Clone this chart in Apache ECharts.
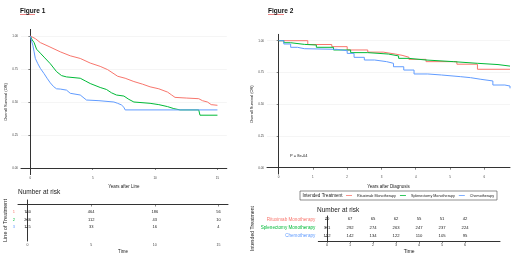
<!DOCTYPE html>
<html>
<head>
<meta charset="utf-8">
<script src="https://cdn.jsdelivr.net/npm/echarts@6/dist/echarts.min.js"></script>
<style>
html, body { margin: 0; padding: 0; background: #fff; }
#chart { width: 520px; height: 260px; }
</style>
</head>
<body>
<div id="chart"></div>
<script>
var colors = ['#F8766D', '#00BA38', '#619CFF'];
var survTicks = [0, 0.25, 0.5, 0.75, 1];

// Figure 1 - OS by line of treatment, [years, survival]
var line1Curve = [[0, 1], [0.4, 0.98], [0.8, 0.95], [1.5, 0.92], [2.4, 0.88], [3.2, 0.85], [4, 0.83], [4.8, 0.795], [5.6, 0.77], [6.2, 0.745], [7, 0.695], [7.6, 0.68], [8.3, 0.655], [9, 0.635], [9.6, 0.615], [10.3, 0.6], [11, 0.575], [11.3, 0.555], [11.6, 0.535], [12.5, 0.53], [13.5, 0.525], [13.8, 0.51], [14.2, 0.5], [14.5, 0.48], [15, 0.475]];
var line2Curve = [[0, 1], [0.15, 0.97], [0.3, 0.95], [0.5, 0.9], [0.8, 0.87], [1.1, 0.84], [1.6, 0.79], [2.1, 0.73], [2.5, 0.7], [2.9, 0.69], [4, 0.68], [4.4, 0.66], [4.8, 0.64], [5.6, 0.61], [6.1, 0.595], [6.5, 0.57], [6.9, 0.553], [7.5, 0.545], [7.9, 0.52], [8.3, 0.5], [9.6, 0.49], [10.3, 0.48], [11, 0.465], [11.5, 0.45], [12, 0.44], [13.5, 0.44], [13.6, 0.4], [15, 0.4]];
var line3Curve = [[0, 1], [0.1, 0.96], [0.2, 0.93], [0.3, 0.88], [0.4, 0.83], [0.6, 0.79], [0.8, 0.755], [1.1, 0.715], [1.34, 0.68], [1.6, 0.645], [1.87, 0.616], [2.1, 0.6], [2.4, 0.598], [2.9, 0.59], [3.2, 0.566], [4, 0.553], [4.3, 0.53], [4.5, 0.515], [5.5, 0.51], [6.7, 0.5], [7, 0.49], [7.3, 0.478], [7.5, 0.46], [7.6, 0.44], [15, 0.44]];
var fig1Ticks = [0, 5, 10, 15];
var fig1Rows = ['1', '2', '3'];
var fig1Risk1 = [760, 464, 186, 56];
var fig1Risk2 = [246, 112, 43, 10];
var fig1Risk3 = [115, 33, 16, 4];

// Figure 2 - OS by intended treatment, [years, survival]
var rituxCurve = [[0, 1], [0.85, 0.97], [1.55, 0.953], [2, 0.927], [2.6, 0.91], [3.05, 0.895], [3.4, 0.885], [3.6, 0.87], [3.8, 0.853], [4.3, 0.835], [5.2, 0.815], [5.8, 0.775], [6.75, 0.775]];
var splenCurve = [[0, 1], [0.15, 0.984], [0.35, 0.971], [0.75, 0.966], [1.1, 0.948], [1.6, 0.927], [2.1, 0.906], [2.6, 0.895], [3.2, 0.88], [3.5, 0.861], [3.8, 0.848], [4.3, 0.835], [5.1, 0.822], [5.8, 0.812], [6.4, 0.8], [6.75, 0.795]];
var chemoCurve = [[0, 1], [0.15, 0.974], [0.35, 0.948], [0.55, 0.937], [0.75, 0.932], [1.7, 0.921], [2, 0.9], [2.2, 0.869], [2.5, 0.848], [2.8, 0.835], [3.15, 0.822], [3.35, 0.795], [3.65, 0.769], [3.95, 0.738], [4.35, 0.73], [4.75, 0.717], [5.3, 0.709], [5.6, 0.696], [5.9, 0.683], [6.25, 0.651], [6.6, 0.643], [6.75, 0.625]];
var fig2Ticks = [0, 1, 2, 3, 4, 5, 6];
var fig2Rows = ['Rituximab Monotherapy', 'Splenectomy Monotherapy', 'Chemotherapy'];
var fig2RiskRitux = [70, 67, 65, 62, 55, 51, 42];
var fig2RiskSplen = [311, 292, 274, 263, 247, 237, 224];
var fig2RiskChemo = [152, 142, 134, 122, 110, 105, 95];

var axisColor = '#333';

function xAxisOf(grid, min, max, ticks, name, labelSize, nameSize, nameGap) {
  return {
    gridIndex: grid, type: 'value', min: min, max: max,
    axisLine: { lineStyle: { color: axisColor, width: 1 } },
    axisTick: { customValues: ticks, length: 2, lineStyle: { color: axisColor, width: 0.6 } },
    axisLabel: { customValues: ticks, fontSize: labelSize, color: '#444', margin: 2 },
    splitLine: { show: false },
    name: name, nameLocation: 'middle', nameGap: nameGap,
    nameTextStyle: { fontSize: nameSize, color: '#222' }
  };
}

function survAxis(grid, nameGap) {
  return {
    gridIndex: grid, type: 'value', min: -0.05, max: 1.05,
    axisLine: { show: true, lineStyle: { color: axisColor, width: 1 } },
    axisTick: { show: true, customValues: survTicks, length: 2, lineStyle: { color: axisColor, width: 0.6 } },
    axisLabel: { customValues: survTicks, fontSize: 3, color: '#444', margin: 3,
      formatter: function (v) { return v.toFixed(2); } },
    splitLine: { show: true, lineStyle: { color: '#eeeeee', width: 0.6 } },
    name: 'Overall Survival (OS)', nameLocation: 'middle', nameGap: nameGap,
    nameTextStyle: { fontSize: 4, color: '#222' }
  };
}

function riskAxis(grid, min, max, labels, labelSize, name, nameSize, nameGap) {
  var rich = {};
  labels.forEach(function (l, i) { rich['r' + i] = { color: colors[i], fontSize: labelSize }; });
  return {
    gridIndex: grid, type: 'value', inverse: true, min: min, max: max,
    axisLine: { show: true, lineStyle: { color: axisColor, width: 1 } },
    axisTick: { show: true, customValues: [1, 2, 3], length: 2, lineStyle: { color: axisColor, width: 0.6 } },
    axisLabel: { customValues: [1, 2, 3], margin: 3, rich: rich,
      formatter: function (v) { return '{r' + (v - 1) + '|' + labels[v - 1] + '}'; } },
    splitLine: { show: false },
    name: name, nameLocation: 'middle', nameGap: nameGap,
    nameTextStyle: { fontSize: nameSize, color: '#222' }
  };
}

function kmSeries(name, data, xi, color, step) {
  return {
    name: name, type: 'line', xAxisIndex: xi, yAxisIndex: xi,
    data: data, step: step, showSymbol: false, symbol: 'none',
    lineStyle: { color: color, width: 1 }, itemStyle: { color: color },
    silent: true, animation: false
  };
}

function riskSeries(xi, times, counts, row, fontSize) {
  return {
    type: 'scatter', xAxisIndex: xi, yAxisIndex: xi,
    data: times.map(function (t, i) { return [t, row, counts[i]]; }),
    symbol: 'circle', symbolSize: 1, itemStyle: { color: 'rgba(255,255,255,0)' },
    label: { show: true, position: 'inside', color: '#222', fontSize: fontSize, opacity: 1,
      formatter: function (p) { return String(p.value[2]); } },
    labelLayout: { hideOverlap: false },
    silent: true, animation: false
  };
}

var chart = echarts.init(document.getElementById('chart'));

var titleStyle = { fontSize: 6.5, fontWeight: 'normal', color: '#222' };

chart.setOption({
  backgroundColor: '#fff',
  textStyle: { fontFamily: 'Liberation Sans' },
  animation: false,
  title: [
    { text: 'Figure 1', left: 20, top: 7.5, padding: 0, textStyle: { fontSize: 6.5, fontWeight: 'bold', color: '#111' } },
    { text: 'Figure 2', left: 268, top: 7.5, padding: 0, textStyle: { fontSize: 6.5, fontWeight: 'bold', color: '#111' } },
    { text: 'Number at risk', left: 18, top: 188.7, padding: 0, textStyle: titleStyle },
    { text: 'Number at risk', left: 317, top: 206.7, padding: 0, textStyle: titleStyle },
    { text: 'P = 8e-04', left: 290, top: 153.7, padding: 0, textStyle: { fontSize: 4, fontWeight: 'normal', color: '#222' } },
    { text: 'Intended Treatment', left: 302.5, top: 193.7, padding: 0, textStyle: { fontSize: 4.6, fontWeight: 'normal', color: '#222' } }
  ],
  legend: {
    left: 300, top: 191, orient: 'horizontal',
    data: fig2Rows,
    icon: 'rect', itemWidth: 6, itemHeight: 0.8, itemGap: 4,
    padding: [2.5, 3, 2.5, 46],
    borderColor: '#444', borderWidth: 0.6,
    textStyle: { fontSize: 3.7, color: '#222' }
  },
  graphic: [
    { type: 'line', shape: { x1: 20, y1: 14.5, x2: 35, y2: 14.5 }, style: { stroke: '#e03030', lineWidth: 0.6 } },
    { type: 'line', shape: { x1: 268, y1: 14.5, x2: 284, y2: 14.5 }, style: { stroke: '#e03030', lineWidth: 0.6 } }
  ],
  grid: [
    { left: 21, top: 29.4, width: 205.8, height: 145.2 },
    { left: 18, top: 200, width: 210, height: 41 },
    { left: 267, top: 34.35, width: 243, height: 139.7 },
    { left: 318.3, top: 216, width: 181.7, height: 25 }
  ],
  xAxis: [
    xAxisOf(0, -0.75, 15.75, fig1Ticks, 'Years after Line', 3, 4.5, 6),
    xAxisOf(1, -0.75, 15.75, fig1Ticks, 'Time', 3.5, 4.5, 8),
    xAxisOf(2, -0.34, 6.75, fig2Ticks, 'Years after Diagnosis', 3, 4.5, 6),
    xAxisOf(3, -0.38, 7.52, fig2Ticks, 'Time', 3.8, 5, 8)
  ],
  yAxis: [
    survAxis(0, 9),
    riskAxis(1, -0.6, 4.87, fig1Rows, 4, 'Line of Treatment', 5.5, 5),
    survAxis(2, 9),
    riskAxis(3, 0.6, 3.6, fig2Rows, 4.6, 'Intended Treatment', 5.2, 63)
  ],
  series: [
    kmSeries('1', line1Curve, 0, colors[0], false),
    kmSeries('2', line2Curve, 0, colors[1], false),
    kmSeries('3', line3Curve, 0, colors[2], false),
    riskSeries(1, fig1Ticks, fig1Risk1, 1, 4),
    riskSeries(1, fig1Ticks, fig1Risk2, 2, 4),
    riskSeries(1, fig1Ticks, fig1Risk3, 3, 4),
    kmSeries(fig2Rows[0], rituxCurve, 2, colors[0], 'end'),
    kmSeries(fig2Rows[1], splenCurve, 2, colors[1], 'end'),
    kmSeries(fig2Rows[2], chemoCurve, 2, colors[2], 'end'),
    riskSeries(3, fig2Ticks, fig2RiskRitux, 1, 4.2),
    riskSeries(3, fig2Ticks, fig2RiskSplen, 2, 4.2),
    riskSeries(3, fig2Ticks, fig2RiskChemo, 3, 4.2)
  ]
});
</script>
</body>
</html>
